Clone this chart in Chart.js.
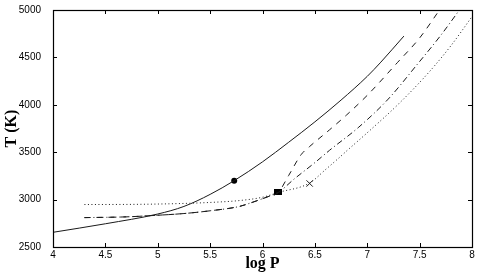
<!DOCTYPE html>
<html>
<head>
<meta charset="utf-8">
<script src="https://cdn.jsdelivr.net/npm/chart.js@4/dist/chart.umd.min.js"></script>
<style>
  html, body { margin: 0; padding: 0; background: #fff; }
  canvas { display: block; }
</style>
</head>
<body>
<canvas id="tp" width="480" height="273"></canvas>
<script>
// curves: log P vs T (K)
const solidLogP = [4.0, 4.5, 5.0, 5.25, 5.5, 5.73, 6.0, 6.25, 6.5, 6.75, 7.0, 7.13, 7.35];
const solidT    = [2655, 2745, 2848, 2928, 3055, 3200, 3398, 3605, 3820, 4050, 4300, 4450, 4725];

// dashed and dash-dot share the low branch up to the square
const lowLogP = [4.3, 4.7, 5.0, 5.25, 5.5, 5.78, 5.9, 6.05, 6.15];
const lowT    = [2810, 2818, 2835, 2853, 2882, 2928, 2970, 3030, 3075];

const dashedLogP = [6.25, 6.37, 6.45, 6.64, 6.8, 7.0, 7.29, 7.5, 7.69];
const dashedT    = [3255, 3476, 3560, 3736, 3890, 4100, 4448, 4705, 5000];

const dashDotLogP = [6.3, 6.5, 6.64, 6.92, 7.2, 7.48, 7.7, 7.88];
const dashDotT    = [3215, 3390, 3520, 3765, 4060, 4430, 4730, 5000];

const dottedLogP = [4.3, 4.8, 5.2, 5.5, 5.78, 6.0, 6.15, 6.45, 6.6, 6.73, 6.81, 7.0, 7.3, 7.59, 7.8, 8.0];
const dottedT    = [2948, 2950, 2958, 2970, 2990, 3025, 3075, 3175, 3315, 3440, 3520, 3705, 4010, 4345, 4625, 4930];

const circlePt = [5.73, 3200];
const squarePt = [6.15, 3075];
const crossPt  = [6.45, 3170];

const xTicks = { min: 4, max: 8, step: 0.5 };
const yTicks = { min: 2500, max: 5000, step: 500 };

function pts(xs, ys) {
  return xs.map((x, i) => ({ x: x, y: ys[i] }));
}

const lineColor = "#1a1a1a";

function curve(xs, ys, dash) {
  return {
    data: pts(xs, ys),
    showLine: true,
    borderColor: lineColor,
    borderWidth: 1,
    borderDash: dash,
    pointRadius: 0,
    cubicInterpolationMode: "monotone",
    fill: false
  };
}

// small filled rectangle for the square marker (a bit wider than tall, like the figure)
const sq = document.createElement("canvas");
sq.width = 8; sq.height = 6;
sq.getContext("2d").fillRect(0, 0, 8, 6);

const frameTicks = {
  id: "frameTicks",
  afterDraw(chart) {
    const { ctx, chartArea: a, scales: { x, y } } = chart;
    ctx.save();
    ctx.strokeStyle = "#000";
    ctx.lineWidth = 1;
    ctx.beginPath();
    x.ticks.forEach((t) => {
      const px = Math.round(x.getPixelForValue(t.value)) + 0.5;
      ctx.moveTo(px, a.bottom); ctx.lineTo(px, a.bottom - 4);
      ctx.moveTo(px, a.top); ctx.lineTo(px, a.top + 4);
    });
    y.ticks.forEach((t) => {
      const py = Math.round(y.getPixelForValue(t.value)) + 0.5;
      ctx.moveTo(a.left, py); ctx.lineTo(a.left + 4, py);
      ctx.moveTo(a.right, py); ctx.lineTo(a.right - 4, py);
    });
    ctx.stroke();
    ctx.lineWidth = 1.2;
    ctx.strokeRect(Math.round(a.left) + 0.5, Math.round(a.top) + 0.5,
      Math.round(a.right - a.left), Math.round(a.bottom - a.top));
    ctx.restore();
  }
};

const tickFont = { family: "\"Liberation Sans\", Arial, sans-serif", size: 10 };
const titleFont = { family: "\"Liberation Serif\", \"Times New Roman\", serif", size: 16, weight: "bold", lineHeight: 1.2 };

new Chart(document.getElementById("tp"), {
  type: "scatter",
  data: {
    datasets: [
      curve(solidLogP, solidT, []),
      curve(lowLogP.concat(dashedLogP), lowT.concat(dashedT), [6, 6]),
      curve(lowLogP.concat(dashDotLogP), lowT.concat(dashDotT), [6, 3, 1, 3]),
      curve(dottedLogP, dottedT, [1, 2.5]),
      {
        data: [{ x: circlePt[0], y: circlePt[1] }],
        pointStyle: "circle", pointRadius: 3,
        backgroundColor: "#000", borderColor: "#000", borderWidth: 0
      },
      {
        data: [{ x: squarePt[0], y: squarePt[1] }],
        pointStyle: sq
      },
      {
        data: [{ x: crossPt[0], y: crossPt[1] }],
        pointStyle: "crossRot", pointRadius: 4.5,
        borderColor: "#222", borderWidth: 1
      }
    ]
  },
  options: {
    responsive: false,
    animation: false,
    devicePixelRatio: 1,
    layout: { padding: { top: 7, right: 8, left: 0, bottom: 0 } },
    plugins: {
      legend: { display: false },
      tooltip: { enabled: false }
    },
    scales: {
      x: {
        type: "linear",
        min: xTicks.min, max: xTicks.max,
        grid: { display: false },
        border: { display: false },
        ticks: {
          stepSize: xTicks.step,
          padding: -6,
          color: "#000",
          font: tickFont,
          maxRotation: 0,
          callback: (v) => String(v)
        },
        title: {
          display: true, text: "log P", color: "#000",
          font: titleFont, padding: { top: 0, bottom: 0 }
        },
        afterFit: (s) => { s.height = 26; }
      },
      y: {
        type: "linear",
        min: yTicks.min, max: yTicks.max,
        grid: { display: false },
        border: { display: false },
        ticks: {
          stepSize: yTicks.step,
          padding: 4,
          color: "#000",
          font: tickFont,
          callback: (v) => String(v)
        },
        title: {
          display: true, text: "T (K)", color: "#000",
          font: titleFont, padding: { top: 2, bottom: 0 }
        },
        afterFit: (s) => { s.width = 53; }
      }
    }
  },
  plugins: [frameTicks]
});
</script>
</body>
</html>
